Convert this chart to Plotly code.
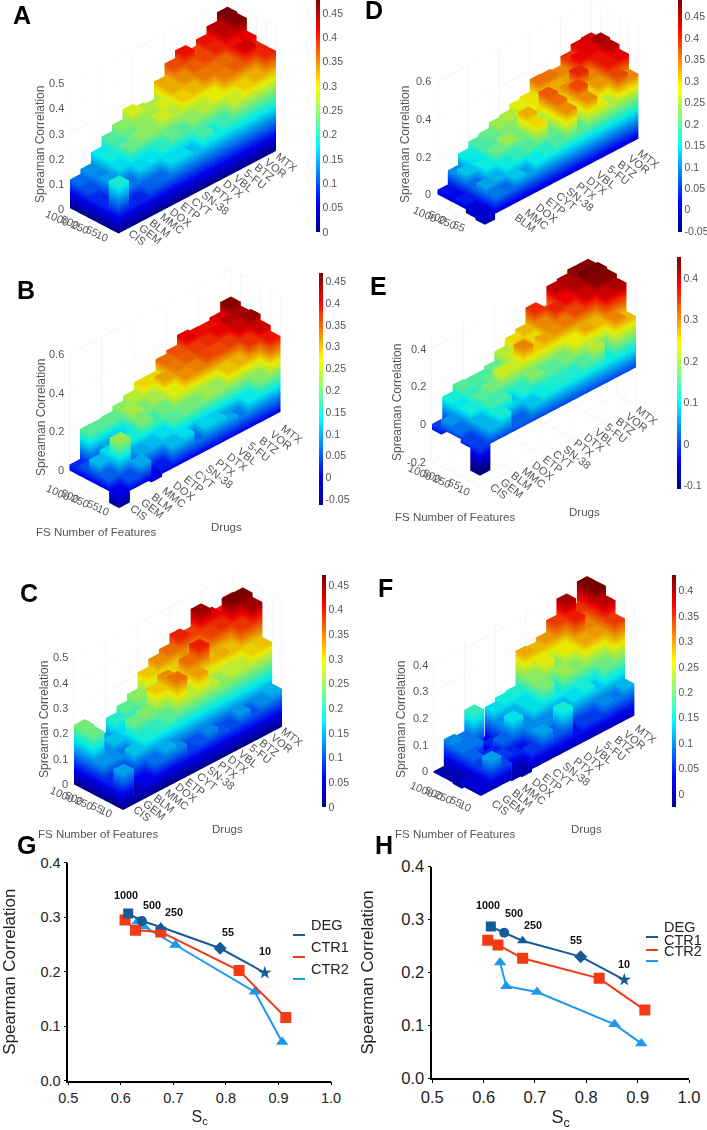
import plotly.graph_objects as go

drugs = ["CIS","GEM","BLM","MMC","DOX","ETP","CYT","SN-38","PTX","DTX","VBL","5-FU","BTZ","VOR","MTX"]
features = ["1000","500","250","55","10"]

# rows follow features (1000 ... 10), columns follow drugs
A = [[.115,.135,.18,.22,.245,.285,.27,.26,.33,.38,.41,.385,.41,.44,.475],
     [.10,.13,.19,.21,.23,.25,.26,.285,.33,.345,.37,.382,.40,.44,.47],
     [.08,.14,.173,.23,.25,.25,.28,.27,.312,.324,.356,.36,.365,.41,.42],
     [.08,.11,.12,.17,.177,.20,.23,.22,.25,.27,.295,.354,.37,.43,.40],
     [.19,.079,.078,.109,.114,.174,.173,.157,.217,.19,.21,.28,.312,.33,.40]]
B = [[.03,.185,.185,.19,.215,.24,.28,.28,.34,.357,.407,.396,.395,.41,.46],
     [.05,.07,.10,.13,.23,.205,.23,.31,.333,.35,.37,.38,.405,.43,.44],
     [.11,.13,.12,.15,.205,.17,.20,.26,.32,.33,.364,.36,.37,.42,.45],
     [.06,.22,.075,.10,.11,.13,.185,.20,.20,.225,.22,.29,.30,.375,.42],
     [-.06,.05,.10,-.015,.02,.11,.13,.065,.125,.12,.10,.075,.14,.21,.39]]
C = [[.235,.15,.14,.196,.22,.246,.31,.34,.357,.395,.38,.45,.415,.40,.43],
     [.228,.13,.158,.17,.20,.23,.265,.30,.31,.34,.36,.38,.39,.467,.467],
     [.134,.13,.12,.23,.24,.31,.34,.31,.357,.396,.32,.324,.316,.385,.45],
     [.08,.10,.157,.19,.20,.22,.354,.27,.33,.27,.245,.27,.27,.307,.313],
     [.14,.03,.06,.115,.147,.13,.09,.10,.127,.10,.096,.135,.10,.13,.15]]
D = [[.025,.10,.16,.195,.21,.24,.25,.28,.29,.356,.354,.344,.393,.427,.434],
     [.02,.13,.15,.19,.20,.22,.23,.28,.29,.31,.32,.327,.42,.427,.46],
     [.03,.075,.16,.21,.24,.22,.32,.25,.37,.30,.34,.40,.343,.41,.45],
     [-.02,.11,.12,.16,.18,.20,.295,.21,.36,.29,.38,.30,.333,.41,.425],
     [-.03,.085,.08,.13,.11,.155,.17,.195,.34,.20,.34,.28,.25,.38,.345]]
E = [[-.03,.115,.15,.145,.145,.16,.21,.25,.27,.355,.31,.41,.42,.44,.44],
     [.05,.10,.13,.14,.16,.18,.22,.26,.25,.30,.36,.38,.42,.45,.45],
     [.03,.115,.15,.17,.22,.22,.30,.26,.28,.295,.31,.34,.40,.44,.44],
     [-.02,.07,.14,.14,.085,.13,.18,.155,.15,.17,.24,.28,.27,.40,.42],
     [-.14,.07,.115,.02,.02,.08,.11,.12,.125,.12,.15,.21,.11,.30,.27]]
F = [[-.005,.10,.09,.17,.03,.14,.155,.16,.29,.285,.30,.345,.405,.35,.43],
     [-.005,.09,.09,.03,.05,.10,.12,.14,.212,.255,.20,.26,.36,.31,.43],
     [-.01,.08,.05,.05,.08,.143,.10,.14,.206,.15,.22,.207,.292,.30,.395],
     [.02,.06,.07,.06,.05,.04,.10,.10,.10,.12,.14,.157,.13,.20,.345],
     [.02,.11,.065,-.005,-.01,.06,.11,.08,.155,.04,.06,.06,.10,.09,.12]]

Sc_deg = [.614,.640,.676,.789,.874]
Sc_ctr1 = [.608,.628,.676,.825,.914]
Sc_ctr2 = [.632,.644,.704,.855,.907]
G_deg = [.307,.293,.282,.243,.198]
G_ctr1 = [.295,.276,.273,.202,.116]
G_ctr2 = [.292,.283,.249,.163,.071]
H_deg = [.287,.275,.260,.230,.186]
H_ctr1 = [.261,.252,.227,.189,.129]
H_ctr2 = [.219,.174,.163,.102,.066]

W, H = 707, 1130
JET = [[0,'#000090'],[.125,'#0000ff'],[.375,'#00ffff'],[.625,'#ffff00'],[.875,'#ff0000'],[1,'#800000']]
GREY = '#555555'
FONT = 'Liberation Sans'
U, COS_EL = 14.4, .86
CAL = 0.00104   # eye length per pixel of half-height
AS = 1.27       # world scale of the bar cube

panels = [
 dict(name='scene',  v=A, fx=118,   fy=232, zs=245, zr=(0,.5),    hd=117, ztk=[0,.1,.2,.3,.4,.5], cmin=0,    cmax=.477, cx=316, ct=0,   cb=232, ctk=[0,.05,.1,.15,.2,.25,.3,.35,.4,.45]),
 dict(name='scene2', v=B, fx=120.7, fy=491.7, zs=185, zr=(-.063,.6), hd=120, ztk=[0,.2,.4,.6], cmin=-.063, cmax=.469, cx=319, ct=273, cb=505, ctk=[-.05,0,.05,.1,.15,.2,.25,.3,.35,.4,.45]),
 dict(name='scene3', v=C, fx=123,   fy=807, zs=247, zr=(0,.5),    hd=118, ztk=[0,.1,.2,.3,.4,.5], cmin=0,    cmax=.47,  cx=322, ct=575, cb=807, ctk=[0,.05,.1,.15,.2,.25,.3,.35,.4,.45]),
 dict(name='scene4', v=D, fx=483,   fy=220, zs=189, zr=(-.052,.6), hd=114, ztk=[0,.2,.4,.6], cmin=-.052, cmax=.489, cx=678, ct=0,   cb=232, ctk=[-.05,0,.05,.1,.15,.2,.25,.3,.35,.4,.45], cut=True),
 dict(name='scene5', v=E, fx=479.7, fy=449, zs=187, zr=(-.2,.46), hd=116, ztk=[-.2,0,.2,.4], cmin=-.109, cmax=.451, cx=677, ct=257, cb=489, ctk=[-.1,0,.1,.2,.3,.4]),
 dict(name='scene6', v=F, fx=479.7, fy=797, zs=268, zr=(-.03,.43), hd=114, ztk=[0,.1,.2,.3,.4], cmin=-.0255, cmax=.431, cx=672, ct=575, cb=807, ctk=[0,.05,.1,.15,.2,.25,.3,.35,.4]),
]

def bar_geometry(v):
    X, Y, Z, I, J, K = [], [], [], [], [], []
    ex, ey, ez = [], [], []
    for r, row in enumerate(v):
        y0 = 4 - r               # 1000 at the back, 10 at the front
        for c, val in enumerate(row):
            n = len(X)
            xs = [c, c+1, c+1, c]
            ys = [y0, y0, y0+1, y0+1]
            X += xs + xs; Y += ys + ys; Z += [0]*4 + [val]*4
            for a, b, d in [(0,1,2),(0,2,3),(4,5,6),(4,6,7),(0,1,5),(0,5,4),(1,2,6),(1,6,5),(2,3,7),(2,7,6),(3,0,4),(3,4,7)]:
                I.append(n+a); J.append(n+b); K.append(n+d)
            for q in range(4):
                ex += [xs[q], xs[q], None]; ey += [ys[q], ys[q], None]; ez += [0, val, None]
            ex += xs + [xs[0], None]; ey += ys + [ys[0], None]; ez += [val]*5 + [None]
    return X, Y, Z, I, J, K, ex, ey, ez

fig = go.Figure()
layout = {}
for p in panels:
    X, Y, Z, I, J, K, ex, ey, ez = bar_geometry(p['v'])
    cbfrac = (p['cb'] - p['ct']) / H
    fig.add_trace(go.Mesh3d(x=X, y=Y, z=Z, i=I, j=J, k=K, intensity=Z, intensitymode='vertex',
        colorscale=JET, cmin=p['cmin'], cmax=p['cmax'], flatshading=True, scene=p['name'], hoverinfo='skip',
        lighting=dict(ambient=.92, diffuse=.16, specular=0, roughness=1, fresnel=0),
        lightposition=dict(x=-300, y=-500, z=4000),
        colorbar=dict(x=p['cx']/W, xanchor='left', y=1-p['ct']/H, yanchor='top', len=cbfrac, lenmode='fraction',
                      thickness=4, xpad=0, ypad=0, outlinewidth=0, tickvals=p['ctk'], ticktext=[f'{t:g}' for t in p['ctk']],
                      ticks='', tickfont=dict(family=FONT, size=10.5, color=GREY))))
    fig.add_trace(go.Scatter3d(x=ex, y=ey, z=ez, mode='lines', scene=p['name'], showlegend=False, hoverinfo='skip',
                               line=dict(color='rgba(40,40,40,0.13)', width=1)))
    zlo, zhi = p['zr']
    zmid = (zlo+zhi)/2
    cx = p['fx'] + 54.75
    cy = p['fy'] - 53.3 - zmid*p['zs']
    hd = p['hd']
    x0, x1 = cx-165, cx+165
    dist = CAL*hd*10
    dirn = (-1.0, -1.0, .87)
    nrm = sum(a*a for a in dirn)**.5
    ann = []
    cut = p.get('cut', False)   # panel D is cropped under its front corner in the figure
    for i, d in enumerate(drugs):
        if cut and i < 2:
            continue
        ann.append(dict(x=i+.5, y=0, z=zlo, text=d, showarrow=False, textangle=38, xanchor='left', yanchor='top',
                        xshift=0, yshift=7, font=dict(family=FONT, size=11, color=GREY)))
    for r, f in enumerate(features):
        if cut and r == 4:
            continue
        ann.append(dict(x=0, y=4-r+.5, z=zlo, text=f, showarrow=False, textangle=24, xanchor='right', yanchor='top',
                        xshift=-1, yshift=6, font=dict(family=FONT, size=11, color=GREY)))
    for t in p['ztk']:
        ann.append(dict(x=0, y=5, z=t, text=f'{t:g}', showarrow=False, xanchor='right', xshift=-4,
                        font=dict(family=FONT, size=11, color=GREY)))
    ax = dict(showbackground=False, showticklabels=False, title=dict(text=''), showspikes=False, zeroline=False,
              gridcolor='#eeeeee', gridwidth=1, showline=False, ticks='')
    layout[p['name']] = dict(
        domain=dict(x=[max(x0,0)/W, min(x1,W)/W], y=[max(1-(cy+hd)/H,0), min(1-(cy-hd)/H,1)]),
        camera=dict(eye=dict(x=dirn[0]/nrm*dist, y=dirn[1]/nrm*dist, z=dirn[2]/nrm*dist),
                    center=dict(x=0,y=0,z=0), up=dict(x=0,y=0,z=1), projection=dict(type='orthographic')),
        aspectmode='manual',
        aspectratio=dict(x=1.5*AS, y=.462*AS, z=AS*.1*(zhi-zlo)*p['zs']/(U*COS_EL)),
        xaxis=dict(ax, range=[0,15], tickvals=[0,3,6,9,12,15]),
        yaxis=dict(ax, range=[0,5], tickvals=[0,1,2,3,4,5]),
        zaxis=dict(ax, range=[zlo,zhi], tickvals=p['ztk']),
        annotations=ann)

# line panels
def line_trace(x, y, col, sym, size, xa, ya):
    return go.Scatter(x=x, y=y, mode='lines+markers', xaxis=xa, yaxis=ya, showlegend=False,
                      line=dict(color=col, width=2), marker=dict(color=col, symbol=sym, size=size))
DEG_C, C1, C2 = '#175a98', '#f23a14', '#1c98ee'
DEG_S = ['square','circle','triangle-up','diamond','star']
for xa, ya, d, c1, c2 in [('x','y',G_deg,G_ctr1,G_ctr2), ('x2','y2',H_deg,H_ctr1,H_ctr2)]:
    fig.add_trace(line_trace(Sc_ctr2, c2, C2, 'triangle-up', 11, xa, ya))
    fig.add_trace(line_trace(Sc_ctr1, c1, C1, 'square', 11, xa, ya))
    fig.add_trace(line_trace(Sc_deg, d, DEG_C, DEG_S, 10, xa, ya))

def laxis(dom, fs, title, tfs, standoff, anchor, tickvals, rng, fmt):
    return dict(domain=dom, range=rng, tickvals=tickvals, tickformat=fmt, showgrid=False, zeroline=False, showline=True,
                linecolor='black', linewidth=1.5, ticks='outside', ticklen=3, tickcolor='black', anchor=anchor, automargin=False,
                tickfont=dict(family=FONT, size=fs, color='#222'), title=dict(text=title, font=dict(family=FONT, size=tfs, color='#222'), standoff=standoff))
xt = [.5,.6,.7,.8,.9,1.0]; yt = [0,.1,.2,.3,.4]
layout['xaxis'] = laxis([68.3/W, 331/W], 14.5, 'S<sub>c</sub>', 16, 6, 'y', xt, [.5,1], '.1f')
layout['yaxis'] = laxis([1-1080.7/H, 1-862.7/H], 14.5, 'Spearman Correlation', 17, 25, 'x', yt, [0,.4], '.1f')
layout['xaxis2'] = laxis([432.3/W, 689/W], 16.5, 'S<sub>c</sub>', 18, 6, 'y2', xt, [.5,1], '.1f')
layout['yaxis2'] = laxis([1-1078.3/H, 1-866.7/H], 16.5, 'Spearman Correlation', 16.8, 23, 'x2', yt, [0,.4], '.1f')

ann = []
def paper(x, y, text, size=11.5, color=GREY, bold=False, angle=0):
    ann.append(dict(xref='paper', yref='paper', x=x/W, y=1-y/H, text=f'<b>{text}</b>' if bold else text, showarrow=False,
                    xanchor='center', yanchor='middle', textangle=angle, font=dict(family=FONT, size=size, color=color)))
for l, x, y in [('A',22,15),('B',26,290),('C',29,593),('D',374,10),('E',378,286),('F',385,588),('G',26,845),('H',384,845)]:
    paper(x, y, l, size=25, color='black', bold=True)
for x, y in [(40,145),(41,418),(44,720),(405,145),(397,402),(401,720)]:
    paper(x, y, 'Spreaman Correlation', size=12, angle=-90)
for x, y in [(96,532),(98,834),(455,517),(455,834)]:
    paper(x, y, 'FS Number of Features')
for x, y in [(226,527),(228,829),(584,512),(586,829)]:
    paper(x, y, 'Drugs')
for xref, yref, lab in [('x','y',[(.614,.307,'1000',-2,10),(.640,.293,'500',10,8),(.676,.282,'250',13,7),(.789,.243,'55',8,8),(.874,.198,'10',0,14)]),
                        ('x2','y2',[(.614,.287,'1000',-3,13),(.640,.275,'500',10,12),(.676,.260,'250',10,8),(.789,.230,'55',-5,9),(.874,.186,'10',0,8)])]:
    for x, y, t, dx, dy in lab:
        ann.append(dict(xref=xref, yref=yref, x=x, y=y, text=f'<b>{t}</b>', showarrow=False, xshift=dx, yshift=dy, yanchor='bottom',
                        font=dict(family=FONT, size=10.8, color='#111')))
shapes = []
for x0, ys, fs in [(293,[935,957,979],14.5),(646,[937,950,961],14.5)]:
    for y, name, col in zip(ys, ['DEG','CTR1','CTR2'], [DEG_C,C1,C2]):
        shapes.append(dict(type='line', xref='paper', yref='paper', x0=x0/W, x1=(x0+12)/W, y0=1-y/H, y1=1-y/H, line=dict(color=col, width=2)))
        ann.append(dict(xref='paper', yref='paper', x=(x0+16)/W, y=1-y/H, text=name, showarrow=False, xanchor='left',
                        font=dict(family=FONT, size=fs, color='#222')))

fig.update_layout(width=W, height=H, margin=dict(l=0,r=0,t=0,b=0,autoexpand=False), paper_bgcolor='white', plot_bgcolor='white',
                  showlegend=False, annotations=ann, shapes=shapes, **layout)
fig.write_html("out.html", config={'displayModeBar': False},
               post_script="document.body.style.margin='0';document.documentElement.style.overflow='hidden';")
